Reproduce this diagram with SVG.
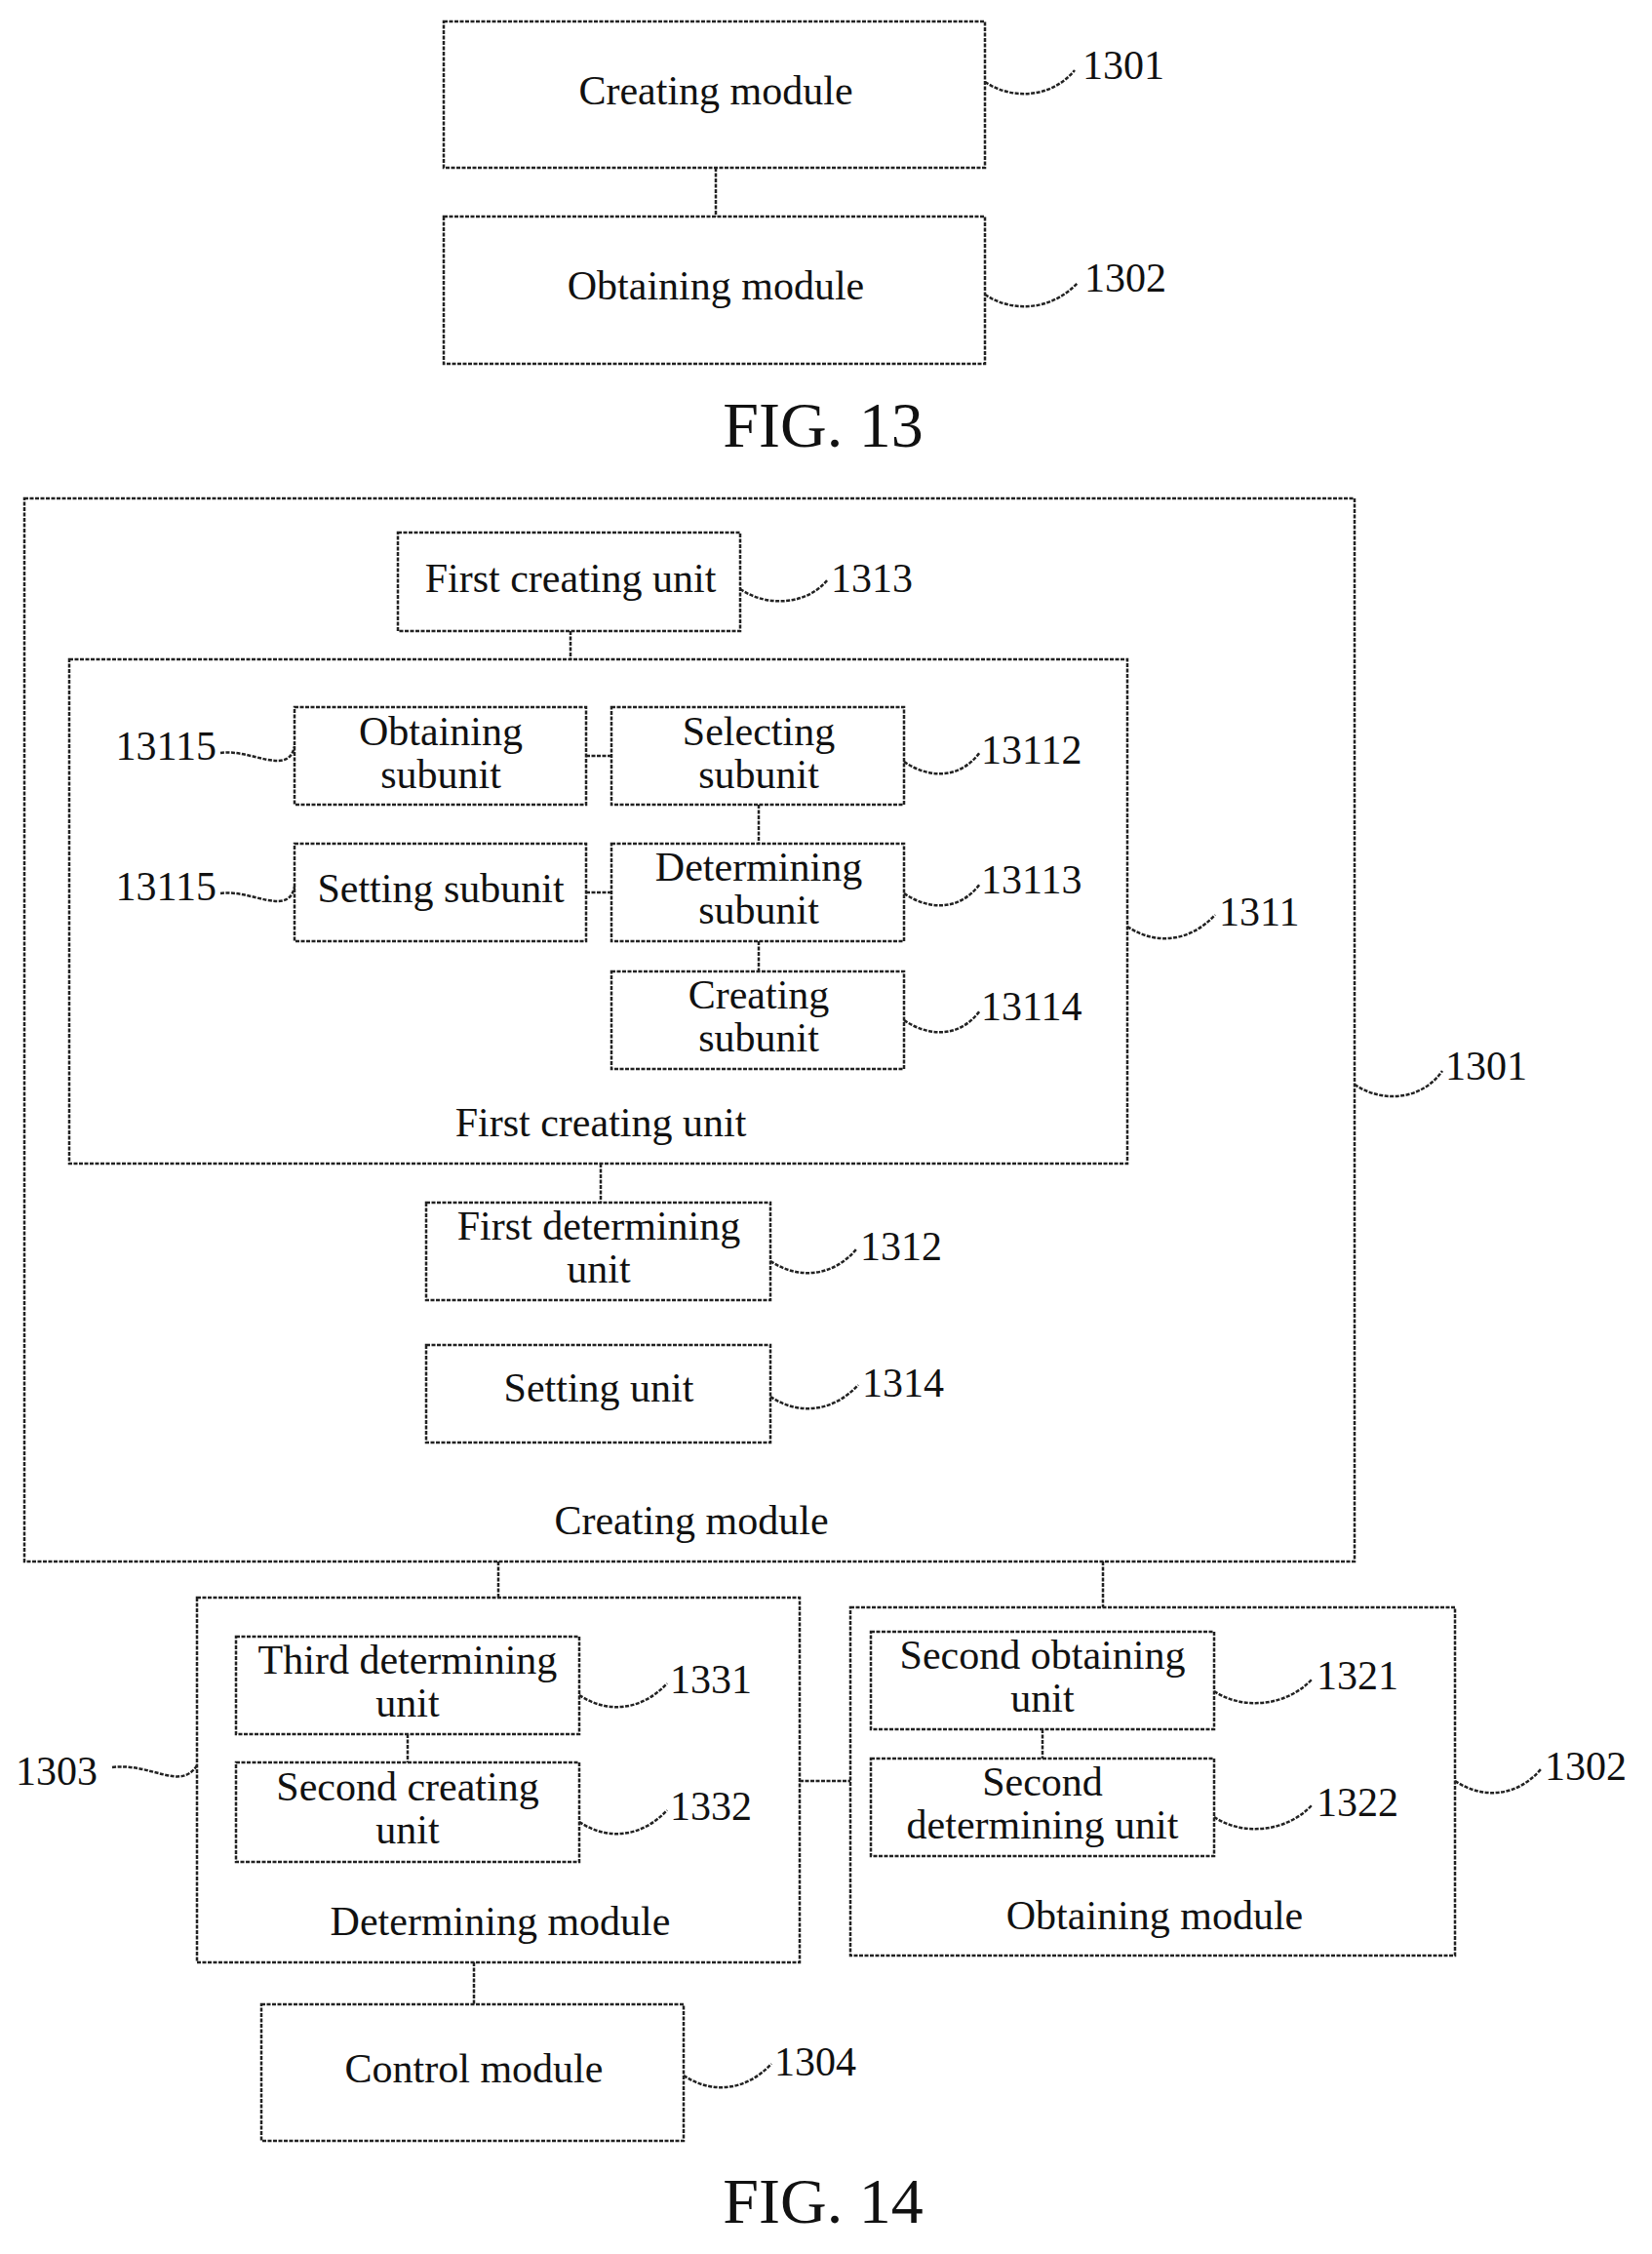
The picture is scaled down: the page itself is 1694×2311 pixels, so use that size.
<svg xmlns="http://www.w3.org/2000/svg" width="1694" height="2311" viewBox="0 0 1694 2311">
<style>
rect{fill:none;stroke:#222;stroke-width:2.5;stroke-dasharray:4,1.5}
line,path{fill:none;stroke:#222;stroke-width:2.5;stroke-dasharray:4,1.5}
text{font-family:"Liberation Serif",serif;font-size:42px;fill:#111;text-anchor:middle;dominant-baseline:middle}
.n{text-anchor:start}
.e{text-anchor:end}
.f{font-size:66px}
</style>
<rect width="1694" height="2311" fill="#fff" style="fill:#fff;stroke:none"/>
<g id="connectors">
<line x1="734" y1="172" x2="734" y2="222"/>
<line x1="585" y1="647" x2="585" y2="676"/>
<line x1="616" y1="1193" x2="616" y2="1233"/>
<line x1="511" y1="1601" x2="511" y2="1638"/>
<line x1="1131" y1="1601" x2="1131" y2="1648"/>
<line x1="820" y1="1826" x2="872" y2="1826"/>
<line x1="486" y1="2012" x2="486" y2="2055"/>
<line x1="601" y1="775" x2="627" y2="775"/>
<line x1="601" y1="915" x2="627" y2="915"/>
<line x1="778" y1="825" x2="778" y2="865"/>
<line x1="778" y1="965" x2="778" y2="996"/>
<line x1="418" y1="1778" x2="418" y2="1807"/>
<line x1="1069" y1="1773" x2="1069" y2="1803"/>
</g>
<g id="leaders">
<path d="M1010 84 c30 20 70 15 92 -12"/>
<path d="M1010 302 c30 20 70 15 95 -12"/>
<path d="M759 604 c30 20 70 15 90 -10"/>
<path d="M927 781 c30 20 60 15 78 -10"/>
<path d="M927 916 c30 20 60 15 78 -10"/>
<path d="M927 1046 c30 20 60 15 78 -10"/>
<path d="M1156 950 c30 20 65 15 90 -12"/>
<path d="M1389 1112 c30 20 70 15 90 -14"/>
<path d="M790 1293 c30 20 65 15 88 -12"/>
<path d="M790 1432 c30 20 65 15 90 -12"/>
<path d="M594 1738 c30 20 65 15 90 -12"/>
<path d="M594 1868 c30 20 65 15 90 -12"/>
<path d="M1245 1734 c30 20 75 15 100 -12"/>
<path d="M1245 1863 c30 20 75 15 100 -12"/>
<path d="M1492 1826 c30 20 65 15 88 -12"/>
<path d="M701 2128 c30 20 65 15 90 -12"/>
<path d="M226 772 c30 -5 70 25 76 -7"/>
<path d="M226 916 c30 -5 70 25 76 -7"/>
<path d="M115 1812 c40 -5 70 25 87 -2"/>
</g>
<g id="fig13">
<g id="n1301a"><rect x="455" y="22" width="555" height="150"/><text x="734" y="97">Creating module</text><text class="n" x="1110" y="71">1301</text></g>
<g id="n1302a"><rect x="455" y="222" width="555" height="151"/><text x="734" y="297">Obtaining module</text><text class="n" x="1112" y="289">1302</text></g>
<text class="f" x="844" y="443">FIG. 13</text>
</g>
<g id="n1301"><rect x="25" y="511" width="1364" height="1090"/><text x="709" y="1563">Creating module</text><text class="n" x="1482" y="1097">1301</text></g>
<g id="n1313"><rect x="408" y="546" width="351" height="101"/><text x="585" y="597">First creating unit</text><text class="n" x="852" y="597">1313</text></g>
<g id="n1311"><rect x="71" y="676" width="1085" height="517"/><text x="616" y="1155">First creating unit</text><text class="n" x="1250" y="939">1311</text></g>
<g id="n13115a"><rect x="302" y="725" width="299" height="100"/><text x="452" y="754">Obtaining</text><text x="452" y="798">subunit</text><text class="e" x="222" y="769">13115</text></g>
<g id="n13112"><rect x="627" y="725" width="300" height="100"/><text x="778" y="754">Selecting</text><text x="778" y="798">subunit</text><text class="n" x="1006" y="773">13112</text></g>
<g id="n13115b"><rect x="302" y="865" width="299" height="100"/><text x="452" y="915">Setting subunit</text><text class="e" x="222" y="913">13115</text></g>
<g id="n13113"><rect x="627" y="865" width="300" height="100"/><text x="778" y="893">Determining</text><text x="778" y="937">subunit</text><text class="n" x="1006" y="906">13113</text></g>
<g id="n13114"><rect x="627" y="996" width="300" height="100"/><text x="778" y="1024">Creating</text><text x="778" y="1068">subunit</text><text class="n" x="1006" y="1036">13114</text></g>
<g id="n1312"><rect x="437" y="1233" width="353" height="100"/><text x="614" y="1261">First determining</text><text x="614" y="1305">unit</text><text class="n" x="882" y="1282">1312</text></g>
<g id="n1314"><rect x="437" y="1379" width="353" height="100"/><text x="614" y="1427">Setting unit</text><text class="n" x="884" y="1422">1314</text></g>
<g id="n1303"><rect x="202" y="1638" width="618" height="374"/><text x="513" y="1974">Determining module</text><text class="e" x="100" y="1820">1303</text></g>
<g id="n1331"><rect x="242" y="1678" width="352" height="100"/><text x="418" y="1706">Third determining</text><text x="418" y="1750">unit</text><text class="n" x="687" y="1726">1331</text></g>
<g id="n1332"><rect x="242" y="1807" width="352" height="102"/><text x="418" y="1836">Second creating</text><text x="418" y="1880">unit</text><text class="n" x="687" y="1856">1332</text></g>
<g id="n1302"><rect x="872" y="1648" width="620" height="357"/><text x="1184" y="1968">Obtaining module</text><text class="n" x="1584" y="1815">1302</text></g>
<g id="n1321"><rect x="893" y="1673" width="352" height="100"/><text x="1069" y="1701">Second obtaining</text><text x="1069" y="1745">unit</text><text class="n" x="1350" y="1722">1321</text></g>
<g id="n1322"><rect x="893" y="1803" width="352" height="100"/><text x="1069" y="1831">Second</text><text x="1069" y="1875">determining unit</text><text class="n" x="1350" y="1852">1322</text></g>
<g id="n1304"><rect x="268" y="2055" width="433" height="140"/><text x="486" y="2125">Control module</text><text class="n" x="794" y="2118">1304</text></g>
<text class="f" x="844" y="2264">FIG. 14</text>
</svg>
